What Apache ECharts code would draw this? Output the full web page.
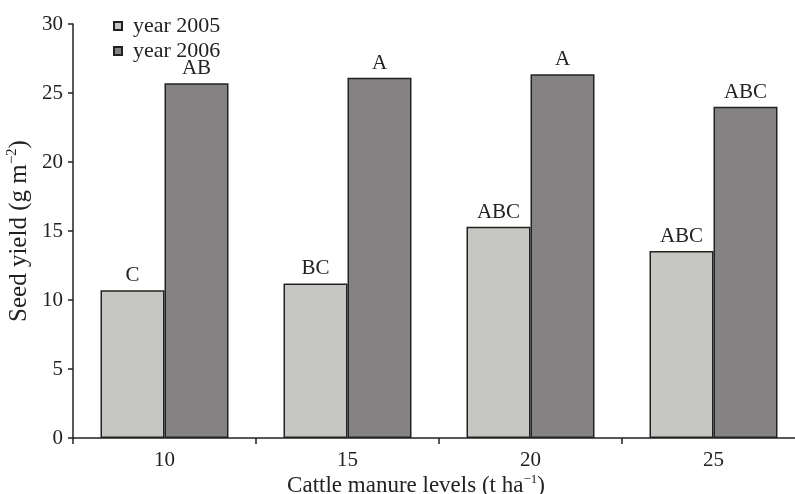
<!DOCTYPE html>
<html>
<head>
<meta charset="utf-8">
<script src="https://cdn.jsdelivr.net/npm/echarts@6/dist/echarts.min.js"></script>
<style>html,body{margin:0;padding:0;background:#fff}#c{width:795px;height:494px}</style>
</head>
<body>
<div id="c"></div>
<script>
var categories = ['10', '15', '20', '25'];
var values2005 = [10.7, 11.2, 15.3, 13.55];
var values2006 = [25.7, 26.1, 26.35, 24.0];
var labels2005 = ['C', 'BC', 'ABC', 'ABC'];
var labels2006 = ['AB', 'A', 'A', 'ABC'];
var yTicks = [0, 5, 10, 15, 20, 25, 30];

var FONT = "'Liberation Serif', 'Times New Roman', serif";
var chart = echarts.init(document.getElementById('c'));
function mkSeries(name, vals, labs, color) {
  return {
    name: name, type: 'bar', data: vals, barWidth: 64, barGap: '0%',
    itemStyle: {color: color, borderColor: '#222', borderWidth: 1.5},
    label: {show: true, position: 'top', distance: 4, fontFamily: FONT, fontSize: 21, color: '#222',
      formatter: function (p) { return labs[p.dataIndex]; }},
    emphasis: {disabled: true}
  };
}
chart.setOption({
  animation: false,
  grid: {left: 73, right: -10, top: 24, bottom: 56, containLabel: false, outerBoundsMode: 'none'},
  legend: {
    orient: 'vertical', left: 108, top: 10, itemWidth: 8, itemHeight: 8, itemGap: 3,
    icon: 'rect',
    textStyle: {fontFamily: FONT, fontSize: 22, color: '#222', padding: [0, 0, 0, 6]},
    data: ['year 2005', 'year 2006']
  },
  xAxis: {
    type: 'category', data: categories,
    axisLine: {lineStyle: {color: '#222', width: 1.5}},
    axisTick: {show: true, length: 6, lineStyle: {color: '#222', width: 1.5}},
    axisLabel: {fontFamily: FONT, fontSize: 21, color: '#222', margin: 12},
    name: 'Cattle manure levels (t ha{sup|\u22121}{n|)}',
    nameLocation: 'middle', nameGap: 35, nameMoveOverlap: false,
    nameTextStyle: {fontFamily: FONT, fontSize: 23, color: '#222', padding: [0, 46, 0, 0],
      rich: {sup: {fontFamily: FONT, fontSize: 13, color: '#222', padding: [0, 0, 13, 0]},
             n: {fontFamily: FONT, fontSize: 23, color: '#222'}}}
  },
  yAxis: {
    type: 'value', min: 0, max: 30, interval: 5,
    axisLine: {show: true, lineStyle: {color: '#222', width: 1.5}},
    axisTick: {show: true, length: 5, lineStyle: {color: '#222', width: 1.5}},
    splitLine: {show: false},
    axisLabel: {fontFamily: FONT, fontSize: 21, color: '#222', margin: 10,
      formatter: function (v) { return yTicks.indexOf(v) >= 0 ? String(v) : ''; }},
    name: 'Seed yield (g m{sup|\u22122}{n|)}',
    nameLocation: 'middle', nameGap: 39, nameMoveOverlap: false,
    nameTextStyle: {fontFamily: FONT, fontSize: 25, color: '#222',
      rich: {sup: {fontFamily: FONT, fontSize: 15, color: '#222', padding: [0, 0, 14, 0]},
             n: {fontFamily: FONT, fontSize: 25, color: '#222'}}}
  },
  series: [
    mkSeries('year 2005', values2005, labels2005, '#c6c7c2'),
    mkSeries('year 2006', values2006, labels2006, '#858283')
  ]
});
</script>
</body>
</html>
